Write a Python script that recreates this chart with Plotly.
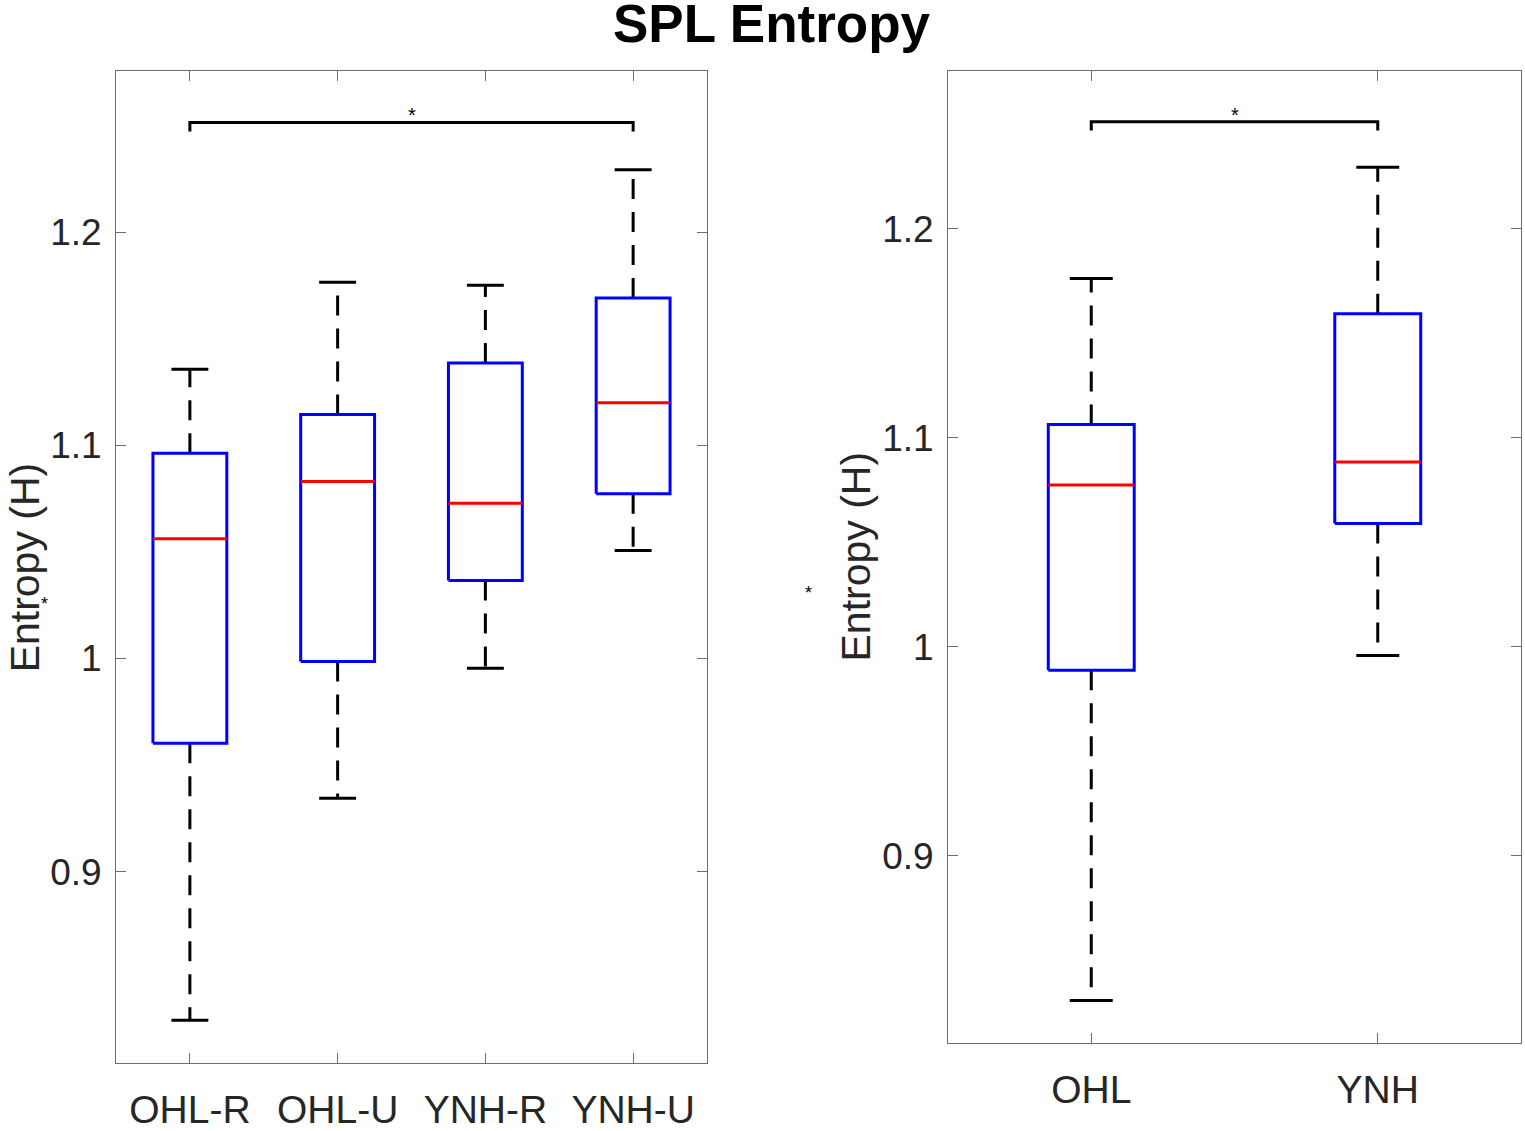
import plotly.graph_objects as go

# ---------------- data ----------------
left_categories = ["OHL-R", "OHL-U", "YNH-R", "YNH-U"]
left_lower = [0.8303, 0.9345, 0.9954, 1.0507]
left_q1 = [0.9602, 0.9986, 1.0366, 1.0773]
left_median = [1.0562, 1.0830, 1.0728, 1.1199]
left_q3 = [1.0963, 1.1144, 1.1386, 1.1691]
left_upper = [1.1356, 1.1764, 1.1750, 1.2292]

right_categories = ["OHL", "YNH"]
right_lower = [0.8307, 0.9958]
right_q1 = [0.9887, 1.0590]
right_median = [1.0774, 1.0884]
right_q3 = [1.1064, 1.1594]
right_upper = [1.1762, 1.2295]

left_sig_pair = [1, 4]
left_sig_y = 1.2514
right_sig_pair = [1, 2]
right_sig_y = 1.2512
sig_drop = 0.0042
sig_label = "*"

y_ticks = [0.9, 1.0, 1.1, 1.2]
y_ticktext = ["0.9", "1", "1.1", "1.2"]

title_text = "SPL Entropy"
ylabel_text = "Entropy (H)"

# ---------------- styling ----------------
BLUE = "#0000FF"
RED = "#FF0000"
BLACK = "#000000"
TEXT = "#262626"
AX = "#6e6e6e"
FONT = "Liberation Sans, Arial, Helvetica, sans-serif"
LW = 3

W = 1525
H = 1131


def px(xp):
    return xp / W


def py(yp):
    return 1 - yp / H


fig = go.Figure()


def add_boxes(cats, lo, q1, med, q3, up, box_w, cap_w, xa, ya):
    for i in range(len(cats)):
        c = i + 1
        common = dict(mode="lines", xaxis=xa, yaxis=ya, showlegend=False,
                      hoverinfo="skip")
        # whiskers (dashed)
        fig.add_trace(go.Scatter(x=[c, c], y=[q3[i], up[i]],
                                 line=dict(color=BLACK, width=LW, dash="20px,13px"), **common))
        fig.add_trace(go.Scatter(x=[c, c], y=[q1[i], lo[i]],
                                 line=dict(color=BLACK, width=LW, dash="20px,13px"), **common))
        # caps
        fig.add_trace(go.Scatter(x=[c - cap_w / 2, c + cap_w / 2], y=[up[i], up[i]],
                                 line=dict(color=BLACK, width=LW), **common))
        fig.add_trace(go.Scatter(x=[c - cap_w / 2, c + cap_w / 2], y=[lo[i], lo[i]],
                                 line=dict(color=BLACK, width=LW), **common))
        # box
        fig.add_trace(go.Scatter(
            x=[c - box_w / 2, c + box_w / 2, c + box_w / 2, c - box_w / 2, c - box_w / 2],
            y=[q1[i], q1[i], q3[i], q3[i], q1[i]],
            line=dict(color=BLUE, width=LW), **common))
        # median
        fig.add_trace(go.Scatter(x=[c - box_w / 2, c + box_w / 2], y=[med[i], med[i]],
                                 line=dict(color=RED, width=LW), **common))


def add_sig(pair, y, xa, ya):
    a, b = pair
    fig.add_trace(go.Scatter(x=[a, a, b, b], y=[y - sig_drop, y, y, y - sig_drop],
                             mode="lines", line=dict(color=BLACK, width=LW),
                             xaxis=xa, yaxis=ya, showlegend=False, hoverinfo="skip"))
    fig.add_annotation(x=(a + b) / 2, y=y, xref=xa, yref=ya, text=sig_label,
                       showarrow=False, yanchor="bottom", yshift=-6,
                       font=dict(family=FONT, size=20, color=BLACK))


add_boxes(left_categories, left_lower, left_q1, left_median, left_q3, left_upper,
          0.5, 0.25, "x", "y")
add_boxes(right_categories, right_lower, right_q1, right_median, right_q3, right_upper,
          0.3, 0.15, "x2", "y2")
add_sig(left_sig_pair, left_sig_y, "x", "y")
add_sig(right_sig_pair, right_sig_y, "x2", "y2")

axis_common = dict(showline=True, linecolor=AX, linewidth=1, mirror="ticks",
                   ticks="inside", ticklen=10, tickwidth=1, tickcolor=AX,
                   showgrid=False, zeroline=False)
xfont = dict(family=FONT, size=39, color=TEXT)
yfont = dict(family=FONT, size=37, color=TEXT)

fig.update_layout(
    width=W, height=H,
    margin=dict(l=0, r=0, t=0, b=0),
    paper_bgcolor="white", plot_bgcolor="white",
    showlegend=False,
    xaxis=dict(domain=[px(116), px(707)], range=[0.5, 4.5],
               tickvals=list(range(1, len(left_categories) + 1)),
               ticktext=left_categories, anchor="y", ticklabelstandoff=12,
               tickfont=xfont, **axis_common),
    yaxis=dict(domain=[py(1077.5), py(72)], range=[0.8102, 1.2755],
               tickvals=y_ticks, ticktext=y_ticktext, anchor="x", ticklabelstandoff=6,
               tickfont=yfont, **axis_common),
    xaxis2=dict(domain=[px(948), px(1521)], range=[0.5, 2.5],
                tickvals=list(range(1, len(right_categories) + 1)),
                ticktext=right_categories, anchor="y2", ticklabelstandoff=12,
                tickfont=xfont, **axis_common),
    yaxis2=dict(domain=[py(1057.5), py(72)], range=[0.8101, 1.2755],
                tickvals=y_ticks, ticktext=y_ticktext, anchor="x2", ticklabelstandoff=6,
                tickfont=yfont, **axis_common),
)

# title
fig.add_annotation(x=px(772), y=py(24), xref="paper", yref="paper",
                   text="<b>" + title_text + "</b>", showarrow=False,
                   xanchor="center", yanchor="middle",
                   font=dict(family=FONT, size=53, color=BLACK))
# y labels
fig.add_annotation(x=px(25), y=py(575), xref="paper", yref="paper",
                   text=ylabel_text, showarrow=False, textangle=-90,
                   xanchor="center", yanchor="middle",
                   font=dict(family=FONT, size=41, color=TEXT))
fig.add_annotation(x=px(856), y=py(564), xref="paper", yref="paper",
                   text=ylabel_text, showarrow=False, textangle=-90,
                   xanchor="center", yanchor="middle",
                   font=dict(family=FONT, size=41, color=TEXT))
# stray asterisks near the y labels
fig.add_annotation(x=px(44), y=py(612), xref="paper", yref="paper",
                   text="*", showarrow=False, xanchor="center", yanchor="middle",
                   font=dict(family=FONT, size=18, color=BLACK))
fig.add_annotation(x=px(808), y=py(601), xref="paper", yref="paper",
                   text="*", showarrow=False, xanchor="center", yanchor="middle",
                   font=dict(family=FONT, size=18, color=BLACK))

post = (
    "var h=document.documentElement, b=document.body;"
    "h.style.margin='0';h.style.padding='0';h.style.overflow='hidden';"
    "b.style.margin='0';b.style.padding='0';b.style.overflow='hidden';"
)

fig.write_html("out.html", config={"displayModeBar": False}, post_script=post)
